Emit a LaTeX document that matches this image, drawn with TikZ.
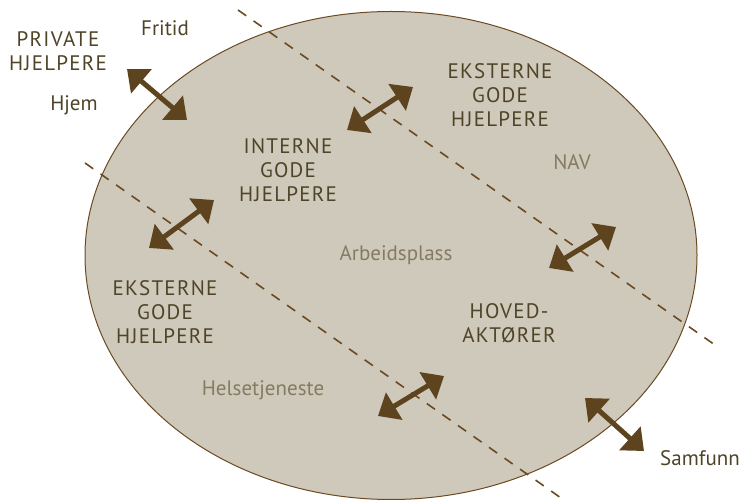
\documentclass[tikz,border=0pt]{standalone}
\usepackage{fontspec}
\setmainfont{PT Sans}
\usepackage{tikz}
\usetikzlibrary{arrows.meta}
\definecolor{FlateFarge}{HTML}{CFC9BB}
\definecolor{KantFarge}{HTML}{6B4A22}
\definecolor{PilFarge}{HTML}{5E441E}
\definecolor{TekstFarge}{HTML}{4F4428}
\definecolor{GraaTekst}{HTML}{857A62}

\begin{document}
\begin{tikzpicture}[x=1pt,y=-1pt,
  aktor/.style={font=\fontsize{21}{24}\selectfont\addfontfeature{LetterSpace=6},text=TekstFarge,align=center,inner sep=0pt},
  sted/.style={font=\fontsize{21}{24}\selectfont,text=GraaTekst,inner sep=0pt},
  pil/.style={{Triangle[length=19pt,width=31pt]}-{Triangle[length=19pt,width=31pt]},line width=5pt,color=PilFarge},
  grense/.style={dash pattern=on 10pt off 9pt,line width=1.6pt,color=KantFarge}]
  \useasboundingbox (0,0) rectangle (742,502);
  % Samarbeidsfeltet
  \draw[fill=FlateFarge,draw=KantFarge,line width=1pt] (391,255.5) ellipse [x radius=306pt,y radius=244pt];
  % Skillelinjer
  \coordinate (g1a) at (238,10);  \coordinate (g1b) at (715,345);
  \coordinate (g2a) at (85,163);  \coordinate (g2b) at (561,498);
  \draw[grense] (g1a) -- (g1b);
  \draw[grense] (g2a) -- (g2b);
  % Piler
  \foreach \n/\xa/\ya/\xb/\yb in {1/127/69/187/120,2/347/130/413/87,3/149/248/214/200,
                                  4/549/268/616/227,5/378/416/444/376,6/585/398/644/451}{
    \coordinate (pa\n) at (\xa,\ya);
    \coordinate (pb\n) at (\xb,\yb);
    \draw[pil] (pa\n) -- (pb\n);
  }
  % Aktører
  \node[aktor] (privat) at (58,51) {PRIVATE\\HJELPERE};
  \node[sted,text=TekstFarge] (fritid) at (165,28) {Fritid};
  \node[sted,text=TekstFarge] (hjem) at (74,105) {Hjem};
  \node[aktor] (interne) at (288,170) {INTERNE\\GODE\\HJELPERE};
  \node[aktor] (eksterneO) at (500,95) {EKSTERNE\\GODE\\HJELPERE};
  \node[aktor] (eksterneV) at (165,312) {EKSTERNE\\GODE\\HJELPERE};
  \node[aktor] (hoved) at (509,323) {HOVED-\\AKTØRER};
  \node[sted,text=TekstFarge] (samfunn) at (700,458) {Samfunn};
  \node[sted] (nav) at (572,162) {NAV};
  \node[sted] (arbeid) at (396,255) {Arbeidsplass};
  \node[sted] (helse) at (263,390) {Helsetjeneste};
\end{tikzpicture}
\end{document}
